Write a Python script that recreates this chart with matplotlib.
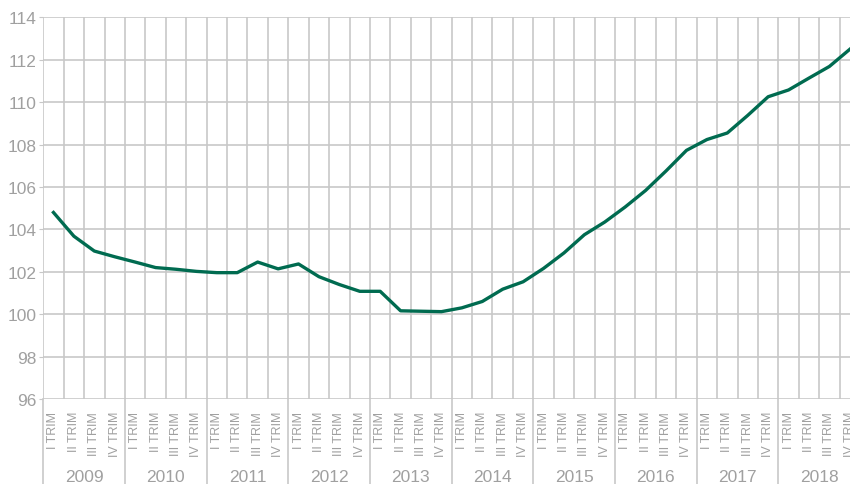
import matplotlib.pyplot as plt
from matplotlib.transforms import blended_transform_factory

# quarterly index values, 2009 Q1 .. 2018 Q4
years = ['2009', '2010', '2011', '2012', '2013', '2014', '2015', '2016', '2017', '2018']
quarters = ['I TRIM', 'II TRIM', 'III TRIM', 'IV TRIM']
values = [104.8, 103.68, 102.98, 102.71,
          102.46, 102.2, 102.12, 102.02,
          101.96, 101.96, 102.46, 102.14,
          102.37, 101.77, 101.4, 101.08,
          101.08, 100.16, 100.14, 100.12,
          100.3, 100.6, 101.18, 101.53,
          102.16, 102.89, 103.75, 104.35,
          105.06, 105.84, 106.76, 107.73,
          108.24, 108.55, 109.38, 110.26,
          110.58, 111.14, 111.69, 112.5]

grey = '#c8c8c8'
text_grey = '#a0a0a0'
plt.rcParams['font.family'] = ['Liberation Sans', 'DejaVu Sans']

fig = plt.figure(figsize=(8.5, 4.85), dpi=100)
ax = fig.add_axes([0.0509, 0.1753, 0.9609, 0.7866])

x = list(range(len(values)))
ax.plot(x, values, color='#006b50', linewidth=2.4, zorder=3)

ax.set_xlim(-0.5, len(values) - 0.5)
ax.set_ylim(96, 114)
ax.set_yticks(range(96, 115, 2))

ax.set_xticks(x)
ax.set_xticklabels(quarters * len(years), rotation=90, fontsize=9, color=text_grey, va='top')
ax.set_xticks([i - 0.5 for i in range(len(values) + 1)], minor=True)
ax.tick_params(axis='x', which='major', length=0, pad=8.5)
ax.tick_params(axis='x', which='minor', length=0)
ax.tick_params(axis='y', length=3, color=grey, labelsize=12.5, labelcolor=text_grey, pad=2)

ax.grid(axis='y', color=grey, linewidth=1.2)
ax.grid(axis='x', which='minor', color=grey, linewidth=1.2)
for s in ax.spines.values():
    s.set_visible(False)

trans = blended_transform_factory(ax.transData, ax.transAxes)
for i, yr in enumerate(years):
    ax.text(i * 4 + 1.5, -0.2045, yr, transform=trans, ha='center', va='center',
            fontsize=12.5, color=text_grey)
    ax.plot([i * 4 - 0.5, i * 4 - 0.5], [0, -0.25], transform=trans, color=grey,
            linewidth=1.2, clip_on=False)

fig.savefig('out.png', dpi=100)
